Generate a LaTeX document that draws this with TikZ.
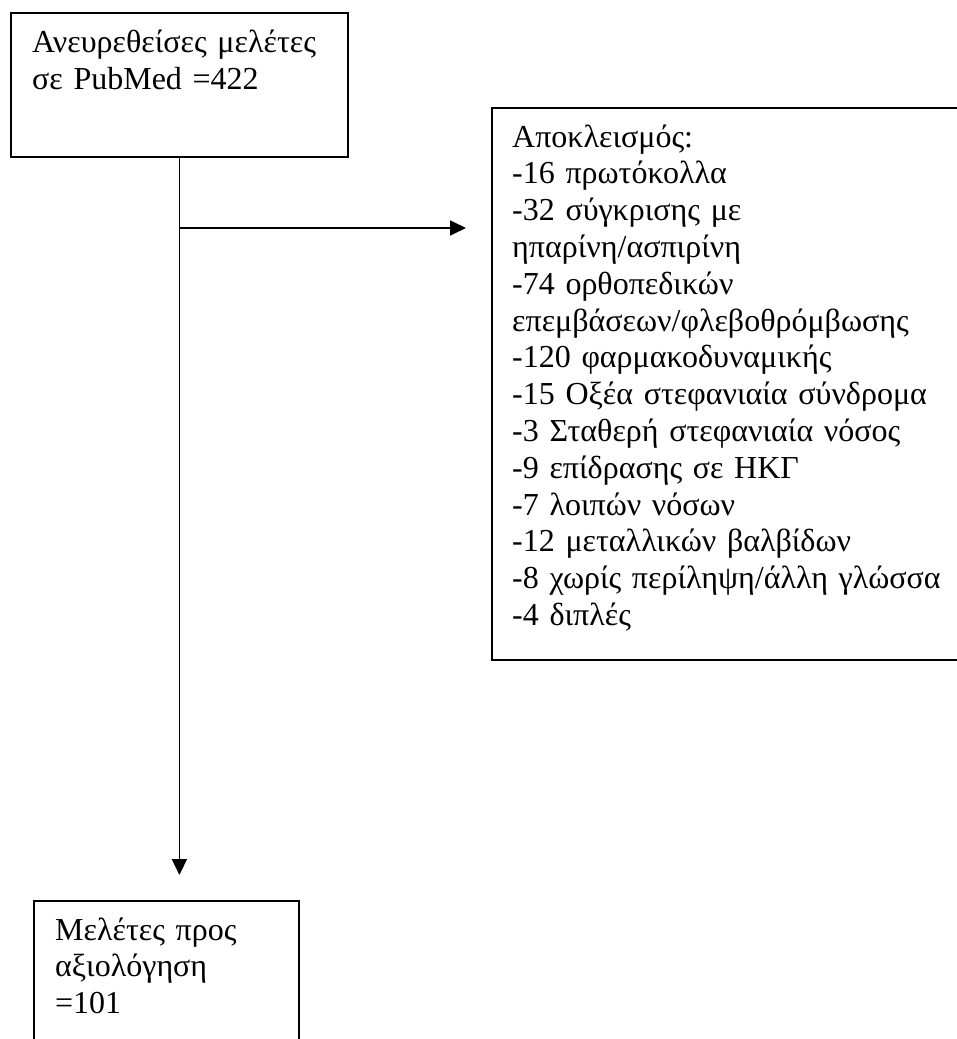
\documentclass[tikz,border=0pt]{standalone}
\usepackage{fontspec}
\setmainfont{Liberation Serif}
\usetikzlibrary{arrows.meta}
\begin{document}
\begin{tikzpicture}[x=1pt,y=-1pt,
  box/.style={draw,line width=1.8pt,inner sep=0pt,anchor=north west},
  txt/.style={anchor=base west,inner sep=0pt,align=left},
  arr/.style={line width=1.8pt,-{Triangle[length=16pt,width=15pt]}}]
\clip (0,0) rectangle (957,1039);
\fill[white] (0,0) rectangle (957,1039);
% boxes
\node[box,minimum width=337pt,minimum height=144pt] (src) at (10,12) {};
\node[box,minimum width=520pt,minimum height=552pt] (excl) at (491,107) {};
\node[box,minimum width=265pt,minimum height=200pt] (incl) at (33,900) {};
% texts
\node[txt,text width=320pt,font=\fontsize{32}{37.5}\selectfont] (srct) at (32,52) {Ανευρεθείσες μελέτες\\σε PubMed =422};
\node[txt,text width=440pt,font=\fontsize{32}{36.8}\selectfont] (exclt) at (512,147) {Αποκλεισμός:\\-16 πρωτόκολλα\\-32 σύγκρισης με\\ηπαρίνη/ασπιρίνη\\-74 ορθοπεδικών\\επεμβάσεων/φλεβοθρόμβωσης\\-120 φαρμακοδυναμικής\\-15 Οξέα στεφανιαία σύνδρομα\\-3 Σταθερή στεφανιαία νόσος\\-9 επίδρασης σε ΗΚΓ\\-7 λοιπών νόσων\\-12 μεταλλικών βαλβίδων\\-8 χωρίς περίληψη/άλλη γλώσσα\\-4 διπλές};
\node[txt,text width=240pt,font=\fontsize{32}{36.5}\selectfont] (inclt) at (55,940) {Μελέτες προς\\αξιολόγηση\\=101};
% connectors
\coordinate (br) at (src.south |- 0,228);
\coordinate (downend) at (src.south |- 0,875);
\coordinate (rightend) at (466,228);
\draw[arr] (src.south) -- (downend);
\draw[arr] (br) -- (rightend);
\end{tikzpicture}
\end{document}
